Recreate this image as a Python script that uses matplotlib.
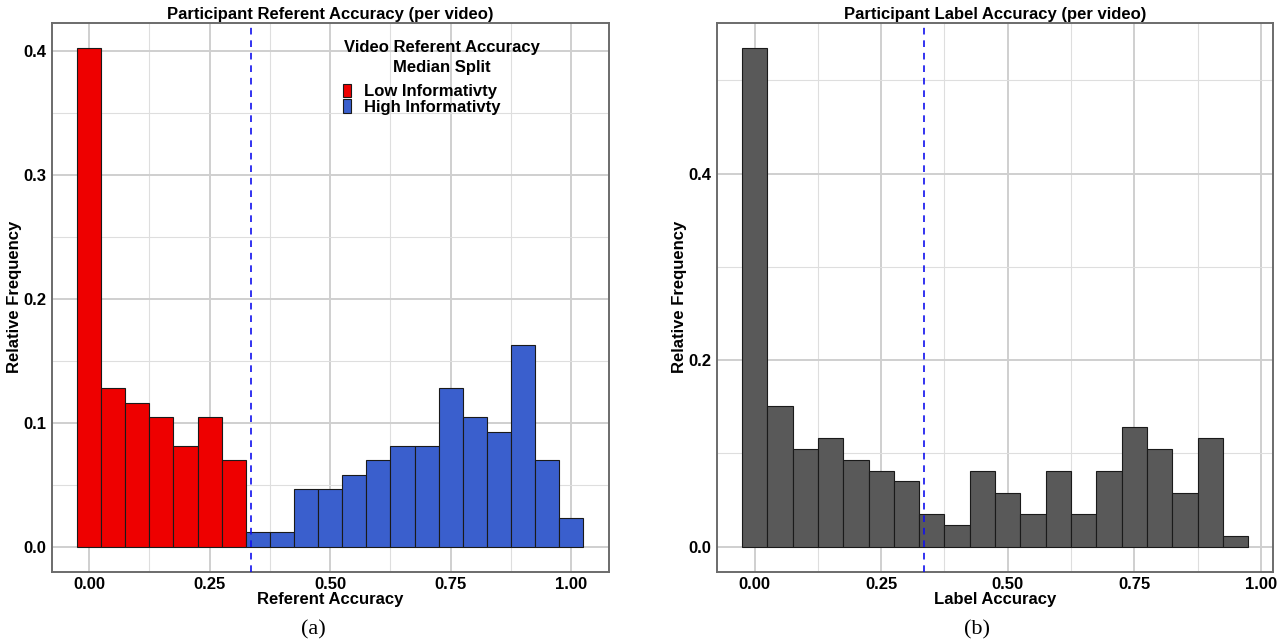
import matplotlib
matplotlib.use("Agg")
import matplotlib.pyplot as plt
from matplotlib.patches import Patch
from matplotlib.ticker import MultipleLocator, FormatStrFormatter

# ---------------- data ----------------
ref_bins = [0.00, 0.05, 0.10, 0.15, 0.20, 0.25, 0.30, 0.35, 0.40, 0.45, 0.50,
            0.55, 0.60, 0.65, 0.70, 0.75, 0.80, 0.85, 0.90, 0.95, 1.00]
ref_freq = [0.403, 0.128, 0.116, 0.105, 0.081, 0.105, 0.070, 0.012, 0.012, 0.047, 0.047,
            0.058, 0.070, 0.081, 0.081, 0.128, 0.105, 0.093, 0.163, 0.070, 0.023]
ref_group = ["Low", "Low", "Low", "Low", "Low", "Low", "Low", "High", "High", "High", "High",
             "High", "High", "High", "High", "High", "High", "High", "High", "High", "High"]

lab_bins = [0.00, 0.05, 0.10, 0.15, 0.20, 0.25, 0.30, 0.35, 0.40, 0.45,
            0.50, 0.55, 0.60, 0.65, 0.70, 0.75, 0.80, 0.85, 0.90, 0.95]
lab_freq = [0.535, 0.151, 0.105, 0.116, 0.093, 0.081, 0.070, 0.035, 0.023, 0.081,
            0.058, 0.035, 0.081, 0.035, 0.081, 0.128, 0.105, 0.058, 0.116, 0.012]

median_split = 0.335
bin_width = 0.05

group_colors = {"Low": "#EE0000", "High": "#3A5FCD"}
legend_labels = {"Low": "Low Informativty", "High": "High Informativty"}
legend_title = "Video Referent Accuracy\nMedian Split"
grey_fill = "#595959"

FS = 12

# ---------------- style ----------------
plt.rcParams['font.family'] = ['Liberation Sans', 'DejaVu Sans']
plt.rcParams['font.weight'] = 'bold'

fig = plt.figure(figsize=(12.86, 6.42), dpi=100)
axL = fig.add_axes([0.0402, 0.1095, 0.4331, 0.8551])
axR = fig.add_axes([0.5573, 0.1095, 0.4328, 0.8551])


def style_axes(ax, xmajor, xminor, ymajor, yminor):
    ax.set_facecolor("white")
    ax.xaxis.set_major_locator(MultipleLocator(xmajor))
    ax.xaxis.set_minor_locator(MultipleLocator(xminor))
    ax.yaxis.set_major_locator(MultipleLocator(ymajor))
    ax.yaxis.set_minor_locator(MultipleLocator(yminor))
    ax.xaxis.set_major_formatter(FormatStrFormatter("%.2f"))
    ax.yaxis.set_major_formatter(FormatStrFormatter("%.1f"))
    ax.grid(which="major", color="#cfcfcf", linewidth=1.4)
    ax.grid(which="minor", color="#dedede", linewidth=0.8)
    ax.set_axisbelow(True)
    for s in ax.spines.values():
        s.set_color("#6b6b6b")
        s.set_linewidth(1.4)
    ax.tick_params(which="both", length=0, pad=4, labelsize=FS)
    for lab in ax.get_xticklabels() + ax.get_yticklabels():
        lab.set_fontweight("bold")
    ax.yaxis.set_label_coords(-0.0525, 0.5)


# ---------------- left panel ----------------
colors = [group_colors[g] for g in ref_group]
axL.bar(ref_bins, ref_freq, width=bin_width, color=colors,
        edgecolor="#1a1a1a", linewidth=0.8, zorder=2)
axL.axvline(median_split, color="#1010EE", linestyle=(0, (4, 3.5)), linewidth=1.2, zorder=3)
axL.set_xlim(-0.0775, 1.0775)
axL.set_ylim(-0.0202, 0.4232)
style_axes(axL, 0.25, 0.125, 0.1, 0.05)
axL.set_title("Participant Referent Accuracy (per video)", fontsize=FS,
              fontweight="bold", pad=3)
axL.set_xlabel("Referent Accuracy", fontsize=FS, fontweight="bold", labelpad=0)
axL.set_ylabel("Relative Frequency", fontsize=FS, fontweight="bold")

axL.text(0.7007, 0.9366, legend_title, transform=axL.transAxes,
         ha="center", va="center", multialignment="center",
         fontsize=FS, fontweight="bold", linespacing=1.4, zorder=5)
handles = [Patch(facecolor=group_colors[k], edgecolor="#1a1a1a", linewidth=0.8)
           for k in ["Low", "High"]]
leg = axL.legend(handles, [legend_labels["Low"], legend_labels["High"]],
                 loc="upper left", bbox_to_anchor=(0.523, 0.889),
                 frameon=False, handlelength=0.5, handleheight=0.9,
                 handletextpad=0.75, labelspacing=0.0, borderaxespad=0,
                 borderpad=0, prop={"weight": "bold", "size": FS})

# ---------------- right panel ----------------
axR.bar(lab_bins, lab_freq, width=bin_width, color=grey_fill,
        edgecolor="#1a1a1a", linewidth=0.8, zorder=2)
axR.axvline(median_split, color="#1010EE", linestyle=(0, (4, 3.5)), linewidth=1.2, zorder=3)
axR.set_xlim(-0.075, 1.0245)
axR.set_ylim(-0.0268, 0.5617)
style_axes(axR, 0.25, 0.125, 0.2, 0.1)
axR.set_title("Participant Label Accuracy (per video)", fontsize=FS,
              fontweight="bold", pad=3)
axR.set_xlabel("Label Accuracy", fontsize=FS, fontweight="bold", labelpad=0)
axR.set_ylabel("Relative Frequency", fontsize=FS, fontweight="bold")

# captions
fig.text(313 / 1286, 1 - 630 / 642, "(a)", family="Liberation Serif",
         fontsize=16, fontweight="normal", ha="center", va="center")
fig.text(977 / 1286, 1 - 630 / 642, "(b)", family="Liberation Serif",
         fontsize=16, fontweight="normal", ha="center", va="center")

fig.savefig("out.png", dpi=100, facecolor="white")
